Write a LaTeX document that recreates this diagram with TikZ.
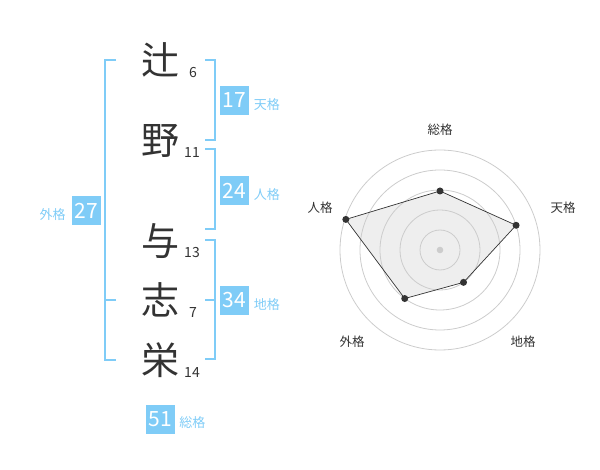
\documentclass[tikz,border=0pt]{standalone}
\usepackage{fontspec}
\setmainfont{Noto Sans CJK JP}
\usetikzlibrary{positioning}
\definecolor{kakublue}{RGB}{127,204,247}
\definecolor{inkgray}{RGB}{51,51,51}
\definecolor{gridgray}{RGB}{204,204,204}
\definecolor{fillgray}{RGB}{238,238,238}
\begin{document}
\begin{tikzpicture}[x=1pt,y=-1pt,
    kanji/.style={text=inkgray,inner sep=0pt,font=\fontsize{38}{38}\selectfont},
    kakusu/.style={text=inkgray,inner sep=0pt,font=\fontsize{14}{14}\selectfont},
    kakubox/.style={fill=kakublue,text=white,minimum size=29pt,inner sep=0pt,font=\fontsize{21}{21}\selectfont},
    kakulabel/.style={text=kakublue,inner sep=0pt,yshift=-4pt,font=\fontsize{13}{13}\selectfont},
    bracket/.style={draw=kakublue,line width=2pt},
    axislabel/.style={text=inkgray,inner sep=0pt,font=\fontsize{12.5}{12.5}\selectfont},
    radardot/.style={circle,fill=inkgray,inner sep=0pt,minimum size=7pt}]
  \useasboundingbox (0,0) rectangle (600,470);
  % name and stroke counts
  \node[kanji] (c1) at (160,60) {辻};
  \node[kanji] (c2) at (160,141) {野};
  \node[kanji] (c3) at (160,241) {与};
  \node[kanji] (c4) at (160,300) {志};
  \node[kanji] (c5) at (160,360) {栄};
  \node[kakusu] (n1) at (193,72.5) {6};
  \node[kakusu] (n2) at (192,153) {11};
  \node[kakusu] (n3) at (192,253) {13};
  \node[kakusu] (n4) at (193,313) {7};
  \node[kakusu] (n5) at (192,373) {14};
  % brackets
  \coordinate (gai1) at (116,60);
  \coordinate (gai2) at (116,300);
  \coordinate (gai3) at (116,360);
  \coordinate (ten1) at (205,60);
  \coordinate (ten2) at (205,140);
  \coordinate (jin1) at (205,149);
  \coordinate (jin2) at (205,229);
  \coordinate (chi1) at (205,240);
  \coordinate (chi2) at (205,300);
  \coordinate (chi3) at (205,359);
  \draw[bracket] (gai1) -- ++(-11,0) |- (gai3);
  \draw[bracket] (gai2) -- ++(-11,0);
  \draw[bracket] (ten1) -- ++(9.5,0) |- (ten2);
  \draw[bracket] (jin1) -- ++(9.5,0) |- (jin2);
  \draw[bracket] (chi1) -- ++(9.5,0) |- (chi3);
  \draw[bracket] (chi2) -- ++(9.5,0);
  % kakusu boxes
  \node[kakubox] (ten) at (234,100.5) {17};
  \node[kakubox] (jin) at (234,190.5) {24};
  \node[kakubox] (chi) at (234,300.5) {34};
  \node[kakubox] (gai) at (86.5,210.5) {27};
  \node[kakubox] (sou) at (160.5,419) {51};
  \node[kakulabel,right=5pt of ten] (tenL) {天格};
  \node[kakulabel,right=5pt of jin] (jinL) {人格};
  \node[kakulabel,right=5pt of chi] (chiL) {地格};
  \node[kakulabel,left=6pt of gai] (gaiL) {外格};
  \node[kakulabel,right=4pt of sou] (souL) {総格};
  % radar
  \begin{scope}[shift={(440,250)},y=1pt]
    \coordinate (pSou) at (90:59);
    \coordinate (pTen) at (18:80);
    \coordinate (pChi) at (-54:40);
    \coordinate (pGai) at (-126:60);
    \coordinate (pJin) at (162:99);
    \fill[fillgray] (pSou) -- (pTen) -- (pChi) -- (pGai) -- (pJin) -- cycle;
    \foreach \r in {20,40,...,100}
      \draw[gridgray,line width=0.8pt] (0,0) circle (\r);
    \fill[gridgray] (0,0) circle (3.3);
    \draw[inkgray,line width=0.7pt] (pSou) -- (pTen) -- (pChi) -- (pGai) -- (pJin) -- cycle;
    \foreach \p in {pSou,pTen,pChi,pGai,pJin}
      \node[radardot] at (\p) {};
    \node[axislabel] (aSou) at (0,120) {総格};
    \node[axislabel] (aTen) at (123,42) {天格};
    \node[axislabel] (aChi) at (83,-92) {地格};
    \node[axislabel] (aGai) at (-88,-92) {外格};
    \node[axislabel] (aJin) at (-120,42) {人格};
  \end{scope}
\end{tikzpicture}
\end{document}
